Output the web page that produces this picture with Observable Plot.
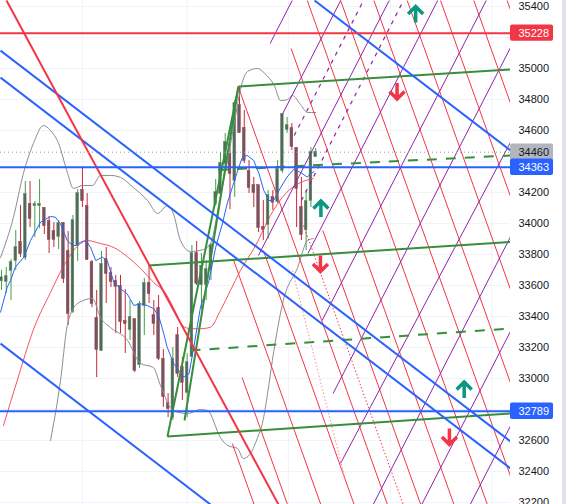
<!DOCTYPE html>
<html><head><meta charset="utf-8">
<script src="https://cdn.jsdelivr.net/npm/d3@7"></script>
<script src="https://cdn.jsdelivr.net/npm/@observablehq/plot@0.6"></script>
<style>
html,body{margin:0;padding:0;background:#fff;}
#chart{width:566px;height:504px;overflow:hidden;}
</style></head><body><div id="chart"></div>
<script>
// ---- candles (bar index = position in arrays) ----
const OPEN  = [33630,33626,33697,33761,33877,33781,34123,34116,34116,34097,34013,33948,33916,34000,33819,33432,33858,34213,34110,33748,33387,33181,33768,33677,33626,33594,33368,33316,33381,33090,33471,33613,33406,33452,33123,32839,32748,33277,33071,32910,33142,33806,33606,33606,33703,34129,34193,34387,34445,34277,34761,34613,34336,34245,34245,33974,33994,34168,34142,34342,34606,34613,34484,34103,33961,34148,34432];
const HIGH  = [33697,33716,33768,33955,34116,34271,34271,34142,34284,34103,34045,34006,34019,34006,33948,34052,34219,34361,34193,33761,33568,33819,33845,33716,33665,33665,33574,33503,33381,33497,33645,33723,33503,33535,33187,32903,33200,33329,33136,33161,33858,33884,33806,33761,33871,34284,34458,34581,34490,34794,34884,34729,34406,34297,34245,34148,34213,34213,34406,34710,34684,34645,34490,34297,34213,34490,34484];
const LOW   = [33568,33548,33503,33697,33781,33761,33974,33910,33967,33929,33806,33845,33832,33613,33342,33419,33755,34103,33761,33458,33006,33174,33484,33587,33290,33290,33161,33245,33039,33065,33277,33484,33277,33116,32813,32748,32729,33006,32858,32748,33136,33600,33445,33503,33632,34110,34168,34323,34090,34168,34581,34387,34194,34103,33942,33890,33897,34084,34129,34323,34581,34471,33974,33890,33826,34103,34426];
const CLOSE = [33650,33658,33748,33845,33806,34187,34032,34123,34123,33987,33897,33897,34000,33645,33419,34019,34193,34148,33768,33484,33187,33736,33677,33626,33594,33368,33355,33394,33052,33477,33613,33548,33355,33129,32884,32806,33123,33032,32974,33103,33806,33613,33723,33703,33858,34200,34387,34523,34323,34774,34587,34406,34232,34200,33974,33961,34181,34136,34348,34703,34632,34497,34226,33929,34142,34458,34460];

// ---- indicators [bar index, price] ----
const EMA_FAST = [[-0.2,33428],[1.2,33589],[1.9,33632],[2.9,33718],[4.7,33783],[6.1,33890],[8.2,34009],[10.3,34045],[11.3,34041],[12.4,33998],[13.8,33890],[14.9,33858],[15.6,33858],[16.6,33879],[17.7,33890],[18.7,33847],[19.8,33761],[21.2,33783],[22.2,33761],[23.6,33621],[25,33579],[26.4,33546],[27.8,33471],[29.2,33482],[30.6,33471],[32,33450],[33.1,33396],[34.1,33288],[34.8,33202],[36.2,33095],[38.3,33009],[39.4,33030],[40.4,33202],[41.8,33460],[43.6,33632],[45,33847],[46.4,33998],[47.4,34127],[48.5,34234],[49.5,34330],[50.5,34420],[51.6,34440],[53,34406],[54.1,34321],[55.1,34213],[56.2,34148],[57.2,34150],[58.6,34230],[60,34300],[61.4,34350],[62.8,34330],[64.2,34300],[65.6,34335]];
const MA_SLOW = [[0.42,32697],[3.3,32987],[6.8,33323],[10.3,33555],[13.1,33729],[15.9,33852],[18,33890],[20.8,33871],[23.6,33845],[26.4,33787],[29.2,33710],[32,33619],[34.5,33548],[36.6,33426],[38,33342],[39.7,33321],[41.8,33321],[43.9,33331],[46,33439],[48.1,33568],[50.2,33697],[53.4,33858],[56.5,34052],[59.7,34194],[62.8,34264],[65.5,34290]];
const BAND_UPPER = [[-0.2,33781],[2.5,34039],[4.6,34323],[6.7,34516],[8.8,34632],[10.3,34600],[12,34516],[13.9,34323],[15.1,34226],[17,34245],[19.1,34245],[20.8,34310],[22.9,34310],[25,34297],[27.7,34232],[30.7,34148],[32.8,34065],[34.9,34116],[36.1,34065],[37.6,33890],[39.7,33819],[42.4,33832],[43.9,33871],[46,34181],[47.5,34406],[49,34665],[50.4,34890],[51.7,34981],[53.8,35000],[55.3,34968],[57.4,34884],[58.6,34793],[60.1,34800],[61.1,34826],[62.8,34768],[64.3,34716],[66,34716]];
const BAND_LOWER = [[10.3,32600],[12.4,32987],[13.9,33355],[16,33484],[19.1,33516],[20.8,33393],[22.9,33329],[26.5,33245],[29.2,33097],[31.9,33071],[33.4,32955],[36.1,32793],[39.1,32774],[41.8,32800],[43.3,32793],[46,32619],[47.5,32568],[49.6,32548],[50.8,32484],[52.3,32516],[53.8,32619],[54.8,32710],[55.9,32903],[56.9,33116],[59.2,33503],[62.2,33716],[64.3,33890],[65.5,33903]];

// ---- drawings [x1, y1, x2, y2] in bar index / price ----
const RED_THIN = [[48.49,32580.6,53.07,32187.1],[50.55,33006.4,60.08,32187.1],[48.78,33761.3,67.08,32187.1],[55.02,33825.8,74.08,32187.1],[49.79,34877.4,81.07,32187.1],[67.5,33954.8,88.07,32187.1],[60.84,35129,95.06,32187.1],[64.24,35438.7,102.06,32187.1],[71.24,35438.7,106.93,32369.7],[78.24,35438.7,106.93,32970.9],[85.23,35438.7,106.93,33574.2],[92.23,35438.7,106.93,34174.2],[99.22,35438.7,106.93,34775.5],[106.22,35438.7,106.93,35377.4]];
const PURPLE = [[56.43,35161.3,61.07,35438.7],[58.87,34696.8,71.26,35438.7],[53.97,33793.5,81.45,35438.7],[64.37,33806.4,91.64,35438.7],[67.35,33374.2,101.83,35438.7],[69.66,32903.2,106.93,35134.8],[71.22,32451.6,106.93,34524.5],[78.09,32187.1,106.93,33914.2],[88.28,32187.1,106.93,33304.5],[98.47,32187.1,106.93,32694.1]];
const PURPLE_DASHED = [[61.49,34567.7,76.05,35438.7],[63.0,34148.4,84.45,35438.7]];
const RED_DOTTED = [[63.45,33987,84.37,32187.1]];
const PINK_DOTTED = [[61.13,33696.8,72.27,32341.9]];
const GREEN = [[49.79,34883.9,106.93,34993.5],[30.88,33729,106.93,33880.6],[34.87,32625.8,106.93,32774.2],[34.87,32625.8,49.79,34883.9],[38.45,32729,49.79,34883.9]];
const GREEN_DASHED = [[39.71,33180.6,106.93,33322.6],[45.5,34345,106.93,34438.7]];
const BLUE = [[-0.21,34941.9,106.93,32419.3],[-0.21,35116.1,106.93,32593.5],[65.76,35438.7,106.93,34471],[-0.21,33225.8,43.91,32187.1]];
const RED_THICK = [[1.05,35438.7,58.19,32187.1]];
const H_RED = [35228];
const H_BLUE = [34363, 32789];
const H_DOTTED = [34460];
const ARROW_UP = [[87,35352],[67.1,34097],[97.2,32929]];
const ARROW_DOWN = [[83.1,34852],[67,33739],[94.1,32623]];

// ---- axis / labels ----
const TICKS = [35400,35000,34800,34600,34200,34000,33800,33600,33400,33200,33000,32600,32400,32200];
const GRID_PRICES = [32200,32400,32600,32800,33000,33200,33400,33600,33800,34000,34200,34400,34600,34800,35000,35200,35400];
const GRID_BARS = [17,39,60.3,81.7,103];
const LABEL_PRICES = [35228, 34460, 34363, 32789];
const LABEL_BG = ["#f23645","#b2b5be","#2962ff","#2962ff"];
const LABEL_FG = ["#ffffff","#131722","#ffffff","#ffffff"];

const candles = OPEN.map((o,k)=>({i:k, o, h:HIGH[k], l:LOW[k], c:CLOSE[k]}));
const labels = LABEL_PRICES.map((p,k)=>({p, bg:LABEL_BG[k], fg:LABEL_FG[k]}));
const UPC = "#43a047", DNC = "#c62838";
const seg = (data, o) => Plot.link(data, {x1:d=>d[0], y1:d=>d[1], x2:d=>d[2], y2:d=>d[3], clip:true, ...o});
const series = (data, o) => Plot.line(data, {x:d=>d[0], y:d=>d[1], clip:true, ...o});
const arrowUp = {draw(ctx){ctx.moveTo(0,8.5);ctx.lineTo(0,-7.5);ctx.moveTo(-7.5,0);ctx.lineTo(0,-7.5);ctx.lineTo(7.5,0);}};
const arrowDown = {draw(ctx){ctx.moveTo(0,-8.5);ctx.lineTo(0,7.5);ctx.moveTo(-7.5,0);ctx.lineTo(0,7.5);ctx.lineTo(7.5,0);}};

const chart = Plot.plot({
  width: 566, height: 504,
  marginLeft: 0, marginRight: 56, marginTop: 0, marginBottom: 0,
  x: {domain: [-0.21, 106.93], axis: null},
  y: {domain: [32187.1, 35438.7], axis: null},
  color: {type: "identity"},
  style: {fontFamily: "'Liberation Sans', Arial, sans-serif", fontSize: "11px", background: "#fff"},
  marks: [
    Plot.ruleY(GRID_PRICES, {stroke: "#f0f3fa", strokeWidth: 1}),
    Plot.ruleX(GRID_BARS, {stroke: "#f0f3fa", strokeWidth: 1}),
    Plot.ruleX(candles, {x: "i", y1: "l", y2: "h", stroke: d => d.c >= d.o ? UPC : DNC, strokeWidth: 1}),
    Plot.rect(candles, {x1: d => d.i - 0.28, x2: d => d.i + 0.28, y1: d => Math.min(d.o, d.c) - 3, y2: d => Math.max(d.o, d.c) + 3, fill: "#5d606b", stroke: d => d.c >= d.o ? UPC : DNC, strokeWidth: 0.5}),
    series(BAND_UPPER, {stroke: "#8a8d96", strokeWidth: 1, curve: "monotone-x"}),
    series(BAND_LOWER, {stroke: "#8a8d96", strokeWidth: 1, curve: "monotone-x"}),
    series(MA_SLOW, {stroke: "#f23645", strokeOpacity: 0.85, strokeWidth: 1, curve: "monotone-x"}),
    series(EMA_FAST, {stroke: "#2962ff", strokeWidth: 1}),
    seg(RED_THIN, {stroke: "#f23645", strokeWidth: 1}),
    seg(PURPLE, {stroke: "#8e24aa", strokeWidth: 1}),
    seg(PURPLE_DASHED, {stroke: "#8e24aa", strokeWidth: 1.2, strokeDasharray: "4,5"}),
    seg(RED_DOTTED, {stroke: "#f23645", strokeWidth: 1, strokeDasharray: "1.5,2"}),
    seg(PINK_DOTTED, {stroke: "#f7a1a8", strokeWidth: 1.2, strokeDasharray: "1.5,2"}),
    seg(GREEN, {stroke: "#388e3c", strokeWidth: 2}),
    seg(GREEN_DASHED, {stroke: "#388e3c", strokeWidth: 2, strokeDasharray: "10,9"}),
    seg(BLUE, {stroke: "#2962ff", strokeWidth: 2}),
    seg(RED_THICK, {stroke: "#f23645", strokeWidth: 2}),
    Plot.ruleY(H_DOTTED, {stroke: "#9598a1", strokeWidth: 1, strokeDasharray: "1,3"}),
    Plot.ruleY(H_RED, {stroke: "#f23645", strokeWidth: 2}),
    Plot.ruleY(H_BLUE, {stroke: "#2962ff", strokeWidth: 2}),
    Plot.dot(ARROW_UP, {x: d => d[0], y: d => d[1], symbol: arrowUp, fill: "none", stroke: "#089981", strokeWidth: 3.5}),
    Plot.dot(ARROW_DOWN, {x: d => d[0], y: d => d[1], symbol: arrowDown, fill: "none", stroke: "#f23645", strokeWidth: 3.5}),
    Plot.axisY(TICKS, {anchor: "right", tickSize: 0, tickPadding: 8, fontSize: 11, fill: "#131722", label: null, tickFormat: d => `${d}`}),
    Plot.rect(labels, {x1: () => 106.93, x2: () => 115.97, y1: d => d.p - 53, y2: d => d.p + 53, fill: "bg", rx: 2}),
    Plot.text(labels, {x: () => 108.61, y: "p", text: d => `${d.p}`, textAnchor: "start", fill: "fg", fontSize: 11}),
    Plot.rect([0], {x1: () => 117.86, x2: () => 118.9, y1: () => 32187.1, y2: () => 35438.7, fill: "#e0e3eb"})
  ]
});
document.getElementById("chart").appendChild(chart);
</script>
</body></html>
